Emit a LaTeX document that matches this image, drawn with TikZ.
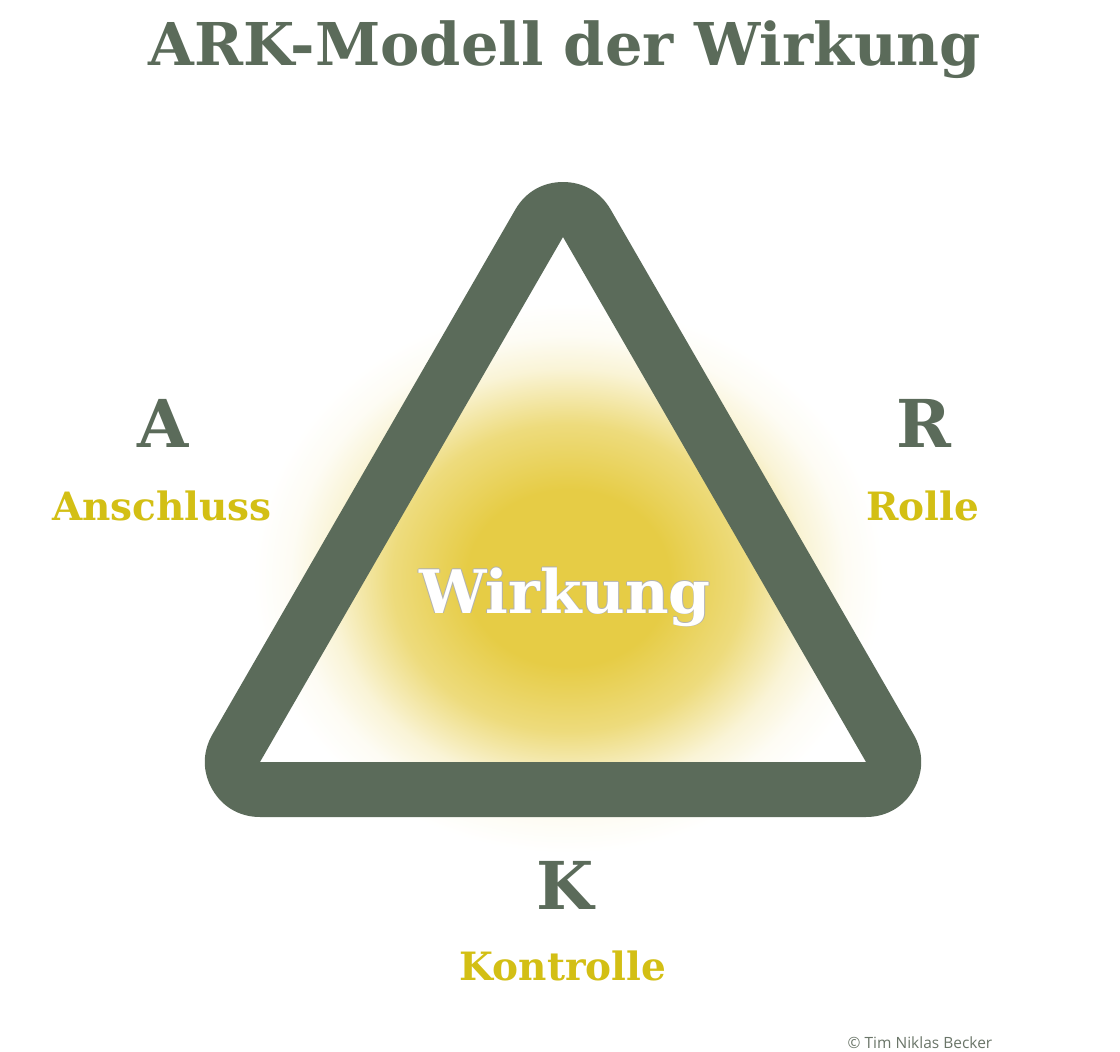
\documentclass[tikz,border=0pt]{standalone}
\usepackage{fontspec}
\setmainfont{DejaVu Serif}
\newfontfamily\credfont{Open Sans}
\definecolor{arkgreen}{HTML}{5B6B5A}
\definecolor{arkyellow}{HTML}{D3BF14}
\definecolor{glowc}{HTML}{E6CC45}
\definecolor{credgrey}{HTML}{6A7568}
\pgfdeclareradialshading{arkglow}{\pgfpoint{0bp}{0bp}}{color(0bp)=(glowc); color(8bp)=(glowc); color(14bp)=(glowc!70!white); color(19bp)=(glowc!22!white); color(22bp)=(glowc!6!white); color(25bp)=(white); color(50bp)=(white)}
\tikzset{
  titletext/.style={font=\fontsize{59}{66}\selectfont\bfseries, text=arkgreen, inner sep=0pt, anchor=base},
  bigletter/.style={font=\fontsize{66}{70}\selectfont\bfseries, text=arkgreen, inner sep=0pt, anchor=base},
  labeltext/.style={font=\fontsize{39}{44}\selectfont\bfseries, text=arkyellow, inner sep=0pt, anchor=base},
  centertext/.style={font=\fontsize{60}{70}\selectfont\bfseries, inner sep=0pt, anchor=base},
  credit/.style={font=\credfont\fontsize{15.5}{18}\selectfont, text=credgrey, inner sep=0pt, anchor=base},
}
\begin{document}
\begin{tikzpicture}[x=1pt,y=-1pt]
\useasboundingbox[fill=white] (0,0) rectangle (1120,1052);
% glow behind
\shade[shading=arkglow] (568,578) ellipse [x radius=315, y radius=275];
% triangle frame, only outside the inner triangle
\coordinate (T) at (563,237);
\coordinate (L) at (260,762);
\coordinate (R) at (866,762);
\begin{scope}[even odd rule]
  \clip (0,0) rectangle (1120,1052) (T) -- (L) -- (R) -- cycle;
  \draw[arkgreen, line width=110pt, line join=round] (T) -- (L) -- (R) -- cycle;
\end{scope}
% title
\node[titletext] (title) at (565,65) {ARK-Modell der Wirkung};
% corner letters
\node[bigletter] (a) at (163,447) {A};
\node[labeltext] (anschluss) at (162,520) {Anschluss};
\node[bigletter] (r) at (924,447) {R};
\node[labeltext] (rolle) at (923,520) {Rolle};
\node[bigletter] (k) at (565,909) {K};
\node[labeltext] (kontrolle) at (563,980) {Kontrolle};
% center text with thin outline
\foreach \dx/\dy in {0.8/0,-0.8/0,0/0.8,0/-0.8}{
  \node[centertext, text=black!30] at (565+\dx,613+\dy) {Wirkung};
}
\node[centertext, text=white] (wirkung) at (565,613) {Wirkung};
% credit
\node[credit] (cred) at (920,1048) {© Tim Niklas Becker};
\end{tikzpicture}
\end{document}
